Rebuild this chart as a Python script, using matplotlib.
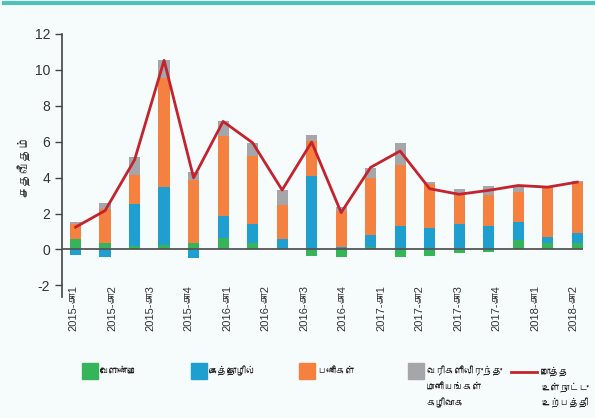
import matplotlib
matplotlib.use("Agg")
import numpy as np
import matplotlib.pyplot as plt
from matplotlib import font_manager, ft2font
from matplotlib.patches import Rectangle
from matplotlib.lines import Line2D

# 18 quarterly bars, but the axis carries 14 evenly spread labels
agriculture = [0.60, 0.33, 0.18, 0.24, 0.33, 0.66, 0.38, 0.05, -0.37,
               -0.42, 0.13, -0.42, -0.37, -0.18, -0.15, 0.51, 0.37, 0.37]
industry = [-0.30, -0.45, 2.34, 3.23, -0.46, 1.22, 1.01, 0.55, 4.11,
            0.13, 0.66, 1.33, 1.22, 1.43, 1.33, 0.99, 0.34, 0.54]
services = [0.79, 1.92, 1.65, 6.09, 3.56, 4.43, 3.84, 1.89, 1.92,
            2.01, 3.20, 3.37, 2.44, 1.59, 1.69, 1.70, 2.76, 2.87]
taxes = [0.16, 0.36, 0.97, 1.01, 0.40, 0.87, 0.68, 0.82, 0.33,
         0.24, 0.53, 1.24, 0.09, 0.33, 0.51, 0.36, 0.04, 0.02]
gdp = [1.24, 2.16, 4.99, 10.53, 3.99, 7.13, 5.94, 3.31, 5.98,
       2.05, 4.57, 5.48, 3.38, 3.07, 3.29, 3.56, 3.47, 3.75]

xlabels = ["2015-கா1", "2015-கா2", "2015-கா3", "2015-கா4",
           "2016-கா1", "2016-கா2", "2016-கா3", "2016-கா4",
           "2017-கா1", "2017-கா2", "2017-கா3", "2017-கா4",
           "2018-கா1", "2018-கா2"]

series_names = ["வேளாண்மை", "கைத்தொழில்", "பணிகள்",
                "வரிகளிலிருந்து\nமானியங்கள்\nகழிவாக"]
line_name = "மொத்த\nஉள்நாட்டு\nஉற்பத்தி"
ylabel = "சதவீதம்"


def find_tamil_font():
    for f in font_manager.fontManager.ttflist:
        try:
            ft = ft2font.FT2Font(f.fname)
            if ft.get_char_index(ord("த")):
                return f.name
        except Exception:
            pass
    return "DejaVu Sans"


tamil = find_tamil_font()
plt.rcParams["font.family"] = ["Liberation Sans", tamil, "DejaVu Sans"]
plt.rcParams["axes.unicode_minus"] = False

bg = "#f6fbfb"
colors = ["#35b45a", "#1f9ed0", "#f4813f", "#a5a6a9"]
red = "#c4232e"
W, H = 595.0, 418.0

fig = plt.figure(figsize=(5.95, 4.18), dpi=100, facecolor=bg)
ax = fig.add_axes([0.1042, 0.2895, 0.8758, 0.6292])
ax.set_facecolor(bg)

n = len(gdp)
x = np.arange(n)
pos = np.zeros(n)
neg = np.zeros(n)
for vals, c in zip([agriculture, industry, services, taxes], colors):
    v = np.array(vals)
    bottom = np.where(v >= 0, pos, neg)
    ax.bar(x, v, 0.38, bottom=bottom, color=c, linewidth=0, zorder=2)
    pos = pos + np.where(v >= 0, v, 0)
    neg = neg + np.where(v < 0, v, 0)

ax.axhline(0, color="#555555", lw=1.3, zorder=3)
ax.plot(x, gdp, color=red, lw=2, zorder=4)

ax.set_xlim(-0.46, n - 0.8)
ax.set_ylim(-2.65, 12)
ax.set_yticks(range(-2, 13, 2))
ax.tick_params(axis="y", labelsize=10, length=5, width=1, color="#444444",
               labelcolor="#333333")
ax.set_xticks([])
for s in ["top", "right", "bottom"]:
    ax.spines[s].set_visible(False)
ax.spines["left"].set_color("#444444")
ax.spines["left"].set_linewidth(1.2)

ax.set_ylabel(ylabel, fontsize=9, fontweight="bold", color="#333333",
              labelpad=2)

# teal rule along the top edge
fig.add_artist(Line2D([4 / W, 1], [1 - 3 / H] * 2, color="#4fc1bd",
                      lw=3, transform=fig.transFigure))

label_x = np.linspace(73.5, 573.5, len(xlabels))
for lx, t in zip(label_x, xlabels):
    fig.text(lx / W, 1 - 285 / H, t, rotation=90, ha="center", va="top",
             fontsize=8, color="#333333")

# legend
patch_x = [82, 191, 299, 408]
for px, c, name in zip(patch_x, colors, series_names):
    fig.add_artist(Rectangle((px / W, 1 - 379 / H), 15.5 / W, 16 / H,
                             color=c, transform=fig.transFigure))
    for i, line in enumerate(name.split("\n")):
        fig.text((px + 18) / W, 1 - (371.5 + 15.7 * i) / H, line,
                 fontsize=6.8, va="center", ha="left", color="#222222")
fig.add_artist(Line2D([511 / W, 537 / W], [1 - 372 / H] * 2, color=red,
                      lw=2, transform=fig.transFigure))
for i, line in enumerate(line_name.split("\n")):
    fig.text(541 / W, 1 - (371.5 + 15.7 * i) / H, line, fontsize=6.8,
             va="center", ha="left", color="#222222")

fig.savefig("out.png", dpi=100, facecolor=bg)
